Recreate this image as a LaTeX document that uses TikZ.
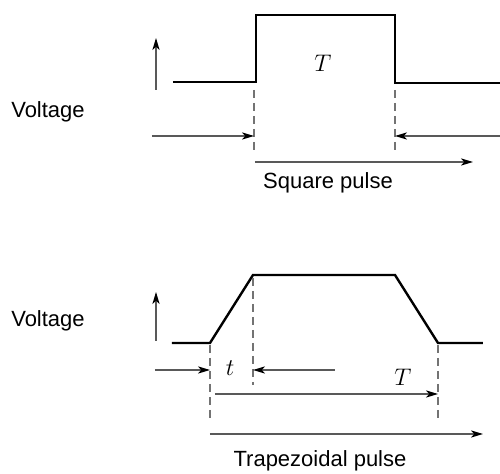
\documentclass[tikz,border=0pt]{standalone}
\usepackage{fontspec}
\setmainfont{Liberation Sans}
\usetikzlibrary{arrows.meta}
\begin{document}
\begin{tikzpicture}[x=0.5pt,y=-0.5pt,
  wave/.style={line width=1.2pt,black,line join=miter},
  dim/.style={line width=0.6pt,black!65,-{Stealth[length=6pt,width=3.6pt,inset=1.6pt,black]}},
  guide/.style={line width=0.6pt,black!55,dash pattern=on 4pt off 2.5pt},
  lbl/.style={font=\fontsize{11}{13}\selectfont,inner sep=0pt},
  sym/.style={font=\fontsize{11.5}{13}\selectfont,inner sep=0pt}]
\useasboundingbox (0,0) rectangle (500,474);
% ---------- Square pulse ----------
\coordinate (s1) at (173,82);
\coordinate (s2) at (256,82);
\coordinate (s3) at (256,15);
\coordinate (s4) at (395,15);
\coordinate (s5) at (395,83);
\coordinate (s6) at (500,83);
\draw[wave] (s1) -- (s2) -- (s3) -- (s4) -- (s5) -- (s6);
\coordinate (sv0) at (156,90);
\coordinate (sv1) at (156,38);
\draw[dim] (sv0) -- (sv1);
\node[lbl] (v1) at (48,112) {Voltage};
\node[sym] (T1) at (323,63) {$T$};
\coordinate (sd1a) at (254,90);
\coordinate (sd1b) at (254,150);
\coordinate (sd2a) at (395,90);
\coordinate (sd2b) at (395,150);
\draw[guide] (sd1a) -- (sd1b);
\draw[guide] (sd2a) -- (sd2b);
\coordinate (sa0) at (152,136);
\coordinate (sa1) at (254,136);
\coordinate (sb0) at (500,136);
\coordinate (sb1) at (395,136);
\draw[dim] (sa0) -- (sa1);
\draw[dim] (sb0) -- (sb1);
\coordinate (st0) at (255,162);
\coordinate (st1) at (473,162);
\draw[dim] (st0) -- (st1);
\node[lbl] (sq) at (328,183) {Square pulse};
% ---------- Trapezoidal pulse ----------
\coordinate (t1) at (172,343);
\coordinate (t2) at (210,343);
\coordinate (t3) at (253,275);
\coordinate (t4) at (395,275);
\coordinate (t5) at (438,343);
\coordinate (t6) at (483,343);
\draw[wave] (t1) -- (t2) -- (t3) -- (t4) -- (t5) -- (t6);
\coordinate (tv0) at (156,341);
\coordinate (tv1) at (156,292);
\draw[dim] (tv0) -- (tv1);
\node[lbl] (v2) at (48,321) {Voltage};
\coordinate (td1a) at (210,345);
\coordinate (td1b) at (210,422);
\coordinate (td2a) at (253,278);
\coordinate (td2b) at (253,385);
\coordinate (td3a) at (438,345);
\coordinate (td3b) at (438,418);
\draw[guide] (td1a) -- (td1b);
\draw[guide] (td2a) -- (td2b);
\draw[guide] (td3a) -- (td3b);
\coordinate (ta0) at (155,370);
\coordinate (ta1) at (210,370);
\coordinate (tb0) at (335,370);
\coordinate (tb1) at (253,370);
\draw[dim] (ta0) -- (ta1);
\draw[dim] (tb0) -- (tb1);
\node[sym] (tt) at (230,368) {$t$};
\node[sym] (T2) at (403,377) {$T$};
\coordinate (tc0) at (215,394);
\coordinate (tc1) at (438,394);
\draw[dim] (tc0) -- (tc1);
\coordinate (te0) at (210,434);
\coordinate (te1) at (483,434);
\draw[dim] (te0) -- (te1);
\node[lbl] (tz) at (320,461) {Trapezoidal pulse};
\end{tikzpicture}
\end{document}
